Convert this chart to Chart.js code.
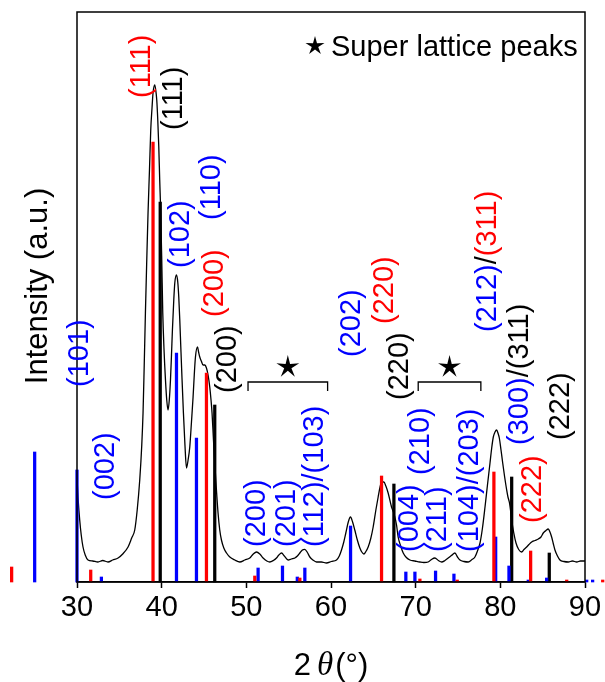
<!DOCTYPE html>
<html>
<head>
<meta charset="utf-8">
<script src="https://cdn.jsdelivr.net/npm/chart.js@4.4.1/dist/chart.umd.min.js"></script>
<style>
  html, body { margin: 0; padding: 0; background: #ffffff; }
  #wrap { width: 605px; height: 682px; position: relative; }
</style>
</head>
<body>
<div id="wrap"><canvas id="xrd" width="605" height="682"></canvas></div>
<script>
// ---- measured XRD pattern (2θ in degrees, intensity in arbitrary units) ----
const twoTheta = [
  30.0, 30.14, 30.32, 30.5, 30.71, 30.97, 31.3, 31.86, 32.48, 33.04, 33.66, 34.22, 34.85, 35.4, 36.03,
  36.46, 36.82, 37.11, 37.41, 37.65, 37.8, 37.94, 38.08, 38.24, 38.39, 38.56, 38.71, 38.86, 38.98, 39.18,
  39.3, 39.42, 39.54, 39.66, 39.77, 39.89, 40.01, 40.13, 40.28, 40.45, 40.6, 40.75, 40.9, 41.04, 41.16,
  41.27, 41.43, 41.55, 41.75, 41.9, 42.02, 42.14, 42.26, 42.41, 42.57, 42.75, 42.93, 43.12, 43.32, 43.52,
  43.71, 43.85, 43.99, 44.23, 44.36, 44.5, 44.68, 44.89, 45.09, 45.29, 45.5, 45.68, 45.83, 45.95, 46.1,
  46.27, 46.47, 46.66, 46.86, 47.06, 47.34, 47.66, 48.05, 48.64, 49.23, 49.82, 50.41, 50.82, 51.2, 51.59,
  51.98, 52.42, 52.77, 53.19, 53.56, 53.84, 54.16, 54.49, 54.94, 55.32, 55.73, 56.03, 56.32, 56.62, 56.91,
  57.21, 57.5, 57.86, 58.29, 58.86, 59.47, 60.04, 60.65, 60.98, 61.24, 61.51, 61.75, 62.04, 62.3, 62.55,
  62.81, 63.11, 63.41, 63.64, 63.88, 64.12, 64.39, 64.71, 64.98, 65.3, 65.57, 65.77, 65.97, 66.24, 66.48,
  66.75, 67.15, 67.37, 67.54, 67.74, 67.93, 68.23, 68.53, 68.9, 69.32, 69.91, 70.5, 70.97, 71.48, 71.86,
  72.27, 72.69, 73.07, 73.46, 73.85, 74.23, 74.64, 74.94, 75.23, 75.71, 76.21, 76.65, 77.0, 77.3, 77.6,
  77.89, 78.19, 78.48, 78.78, 78.98, 79.17, 79.37, 79.57, 79.72, 79.88, 80.08, 80.28, 80.51, 80.75, 80.9,
  81.06, 81.2, 81.34, 81.59, 81.85, 82.17, 82.52, 82.79, 83.11, 83.38, 83.7, 84.09, 84.48, 84.8, 85.07,
  85.39, 85.66, 85.86, 86.06, 86.25, 86.45, 86.75, 87.04, 87.52, 88.02, 88.52, 89.02, 89.47, 90.0
];
const intensity = [
  104, 82, 62, 47, 35, 27, 22, 21, 20, 21.5, 20, 22, 24, 28, 35,
  44, 52, 72, 102, 137, 169, 217, 269, 322, 369, 412, 452, 474, 489, 497,
  492, 482, 462, 435, 402, 369, 322, 269, 232, 202, 182, 172, 182, 202, 227,
  252, 282, 299, 307, 300, 285, 262, 235, 202, 169, 137, 114, 122, 135, 160,
  185, 207, 225, 235, 230, 225, 221, 217, 217, 214, 206, 195, 182, 169, 145,
  119, 92, 69, 52, 42, 34, 29, 25, 22, 20, 22, 24, 28, 30, 28,
  24, 21, 20, 21.5, 24, 27, 29, 26, 22, 23, 24, 26, 29, 32, 32.7,
  29.5, 25, 22, 20, 20, 19, 20.5, 22, 26, 32, 40, 49, 60, 65, 60,
  52, 42, 34, 30, 28, 30.5, 35, 44, 55, 72, 85, 94, 100, 100, 96,
  89, 75, 70, 65, 57, 45, 36, 29, 24.5, 22, 21, 20, 19.5, 20, 22.5,
  24, 21.5, 20, 21.5, 24, 26.5, 29, 25, 22, 20.5, 20, 22.5, 25, 31, 39,
  54, 75, 97, 119, 134, 145, 150, 152, 149, 144, 132, 119, 105, 92, 85,
  80, 72, 62, 49, 39, 32.5, 30, 32.5, 35, 37.5, 40, 41.5, 43, 45, 49,
  51.5, 53, 50, 45, 38.5, 32, 26, 22, 20.5, 20, 21, 20, 21, 21
];

// ---- reference stick patterns ----
const redPos = [22.28, 31.62, 38.98, 45.29, 51.0, 56.32, 65.97, 70.5, 74.91, 79.24, 83.58, 87.84, 92.09];
const redInt = [15, 12, 440, 209, 6, 4, 106, 3, 2, 110, 31, 2, 2];

const bluePos = [25.0, 30.0, 32.88, 41.75, 44.11, 51.39, 54.27, 56.02, 56.91, 62.31, 68.84, 69.91,
                 72.35, 74.52, 79.45, 81.02, 83.3, 85.47, 90.2, 90.9];
const blueInt = [130, 112, 5, 229, 144, 14, 16, 5, 14, 56, 10, 10, 11, 8, 45, 16, 2, 4, 2, 2];

const blackPos = [39.83, 46.27, 67.43, 81.34, 85.78];
const blackInt = [380, 177, 98, 105, 29];

const xTicks = [30, 40, 50, 60, 70, 80, 90];

// ---- annotation texts ----
const BLUE = '#0000ff', RED = '#ff0000', BLACK = '#000000';
const hklLabels = [
  { at: [30.32, 195], parts: [['(101)', BLUE]] },
  { at: [33.39, 82],  parts: [['(002)', BLUE]] },
  { at: [37.65, 484], parts: [['(111)', RED]] },
  { at: [41.43, 452], parts: [['(111)', BLACK]] },
  { at: [42.27, 314], parts: [['(102)', BLUE]] },
  { at: [45.92, 362], parts: [['(110)', BLUE]] },
  { at: [46.27, 265], parts: [['(200)', RED]] },
  { at: [47.8, 189],  parts: [['(200)', BLACK]] },
  { at: [51.23, 35],  parts: [['(200)', BLUE]] },
  { at: [54.78, 35],  parts: [['(201)', BLUE]] },
  { at: [58.08, 35],  parts: [['(112)/(103)', BLUE]] },
  { at: [62.46, 225], parts: [['(202)', BLUE]] },
  { at: [66.36, 258], parts: [['(220)', RED]] },
  { at: [68.14, 182], parts: [['(220)', BLACK]] },
  { at: [69.3, 30],   parts: [['(004)', BLUE]] },
  { at: [70.6, 107],  parts: [['(210)', BLUE]] },
  { at: [72.62, 30],  parts: [['(211)', BLUE]] },
  { at: [76.4, 30],   parts: [['(104)/(203)', BLUE]] },
  { at: [78.54, 250], parts: [['(212)', BLUE], ['/', BLACK], ['(311)', RED]] },
  { at: [82.32, 137], parts: [['(300)', BLUE], ['/(311)', BLACK]] },
  { at: [83.86, 59],  parts: [['(222)', RED]] },
  { at: [87.17, 142], parts: [['(222)', BLACK]] }
];
// super-lattice brackets: [from 2θ, to 2θ, level]
const superLattice = [[50.2, 59.6, 200], [70.3, 77.7, 200]];

const FONT = '"Liberation Sans", Arial, sans-serif';
const FS = 29;

function sticks(pos, val) {
  return pos.map((p, i) => ({ x: p, y: val[i] }));
}

function starPath(ctx, cx, cy, ro, ri) {
  ctx.beginPath();
  for (let k = 0; k < 10; k++) {
    const r = k % 2 === 0 ? ro : ri;
    const a = -Math.PI / 2 + k * Math.PI / 5;
    const px = cx + r * Math.cos(a), py = cy + r * Math.sin(a);
    if (k === 0) ctx.moveTo(px, py); else ctx.lineTo(px, py);
  }
  ctx.closePath();
  ctx.fill();
}

const decorations = {
  id: 'decorations',
  afterDatasetsDraw(chart) {
    const { ctx, chartArea: ca, scales } = chart;
    const xs = scales.x, ys = scales.y;
    ctx.save();

    // frame
    ctx.strokeStyle = '#000';
    ctx.lineWidth = 1.5;
    ctx.strokeRect(ca.left, ca.top, ca.right - ca.left, ca.bottom - ca.top);

    // Miller-index labels, rotated to read upward
    ctx.font = FS + 'px ' + FONT;
    ctx.textAlign = 'left';
    ctx.textBaseline = 'middle';
    hklLabels.forEach(l => {
      const px = xs.getPixelForValue(l.at[0]);
      const py = ys.getPixelForValue(l.at[1]);
      ctx.save();
      ctx.translate(px, py);
      ctx.rotate(-Math.PI / 2);
      let off = 0;
      l.parts.forEach(([t, c]) => {
        ctx.fillStyle = c;
        ctx.fillText(t, off, 0);
        off += ctx.measureText(t).width;
      });
      ctx.restore();
    });

    // super-lattice brackets with star marks
    ctx.strokeStyle = '#000';
    ctx.fillStyle = '#000';
    ctx.lineWidth = 1.3;
    superLattice.forEach(([a, b, lvl]) => {
      const x1 = xs.getPixelForValue(a), x2 = xs.getPixelForValue(b);
      const yy = ys.getPixelForValue(lvl);
      const leg = 9;
      ctx.beginPath();
      ctx.moveTo(x1, yy + leg); ctx.lineTo(x1, yy); ctx.lineTo(x2, yy); ctx.lineTo(x2, yy + leg);
      ctx.stroke();
      starPath(ctx, (x1 + x2) / 2, yy - 15, 12, 3.8);
    });

    // legend note
    starPath(ctx, 315, 46, 10, 3.4);
    ctx.font = '29px ' + FONT;
    ctx.textAlign = 'left';
    ctx.textBaseline = 'alphabetic';
    ctx.fillText('Super lattice peaks', 331, 56);

    // y-axis title
    ctx.save();
    ctx.translate(47, 286);
    ctx.rotate(-Math.PI / 2);
    ctx.font = '31px ' + FONT;
    ctx.textAlign = 'center';
    ctx.textBaseline = 'alphabetic';
    ctx.fillText('Intensity (a.u.)', 0, 0);
    ctx.restore();

    // x-axis title: 2θ(°) with italic theta
    const partsX = [
      ['2', '31px ' + FONT, 6],
      ['\u03B8', 'italic 33px "Liberation Serif", serif', 2],
      ['(\u00B0)', '31px ' + FONT, 0]
    ];
    let total = 0;
    partsX.forEach(([t, f, g]) => { ctx.font = f; total += ctx.measureText(t).width + g; });
    let cx = (ca.left + ca.right) / 2 - total / 2;
    ctx.textBaseline = 'alphabetic';
    partsX.forEach(([t, f, g]) => {
      ctx.font = f;
      ctx.fillText(t, cx, 675);
      cx += ctx.measureText(t).width + g;
    });

    ctx.restore();
  }
};

const stickStyle = (color) => ({
  type: 'bar',
  backgroundColor: color,
  borderWidth: 0,
  barThickness: 2.6,
  grouped: false,
  clip: false,
  order: 1
});

new Chart(document.getElementById('xrd'), {
  type: 'scatter',
  data: {
    datasets: [
      Object.assign({ data: sticks(redPos, redInt) }, stickStyle(RED)),
      Object.assign({ data: sticks(bluePos, blueInt) }, stickStyle(BLUE)),
      Object.assign({ data: sticks(blackPos, blackInt) }, stickStyle(BLACK)),
      {
        type: 'line',
        data: twoTheta.map((t, i) => ({ x: t, y: intensity[i] })),
        borderColor: '#000',
        borderWidth: 1.3,
        pointRadius: 0,
        cubicInterpolationMode: 'monotone',
        fill: false,
        order: 5
      }
    ]
  },
  options: {
    responsive: false,
    animation: false,
    devicePixelRatio: 1,
    layout: { padding: { left: 77, right: 20, top: 12, bottom: 0 } },
    plugins: { legend: { display: false }, tooltip: { enabled: false } },
    scales: {
      x: {
        type: 'linear',
        min: xTicks[0],
        max: xTicks[xTicks.length - 1],
        offset: false,
        afterFit: (s) => { s.height = 100; },
        afterBuildTicks: (s) => { s.ticks = xTicks.map(v => ({ value: v })); },
        grid: { display: true, offset: false, drawOnChartArea: false, drawTicks: true, tickLength: 6, tickWidth: 1.5, tickColor: '#000' },
        border: { display: true, color: '#000', width: 1.5 },
        ticks: { stepSize: 10, autoSkip: false, color: '#000', padding: 3, font: { family: FONT, size: FS }, maxRotation: 0 }
      },
      y: {
        display: false,
        min: 0,
        max: 570
      }
    }
  },
  plugins: [decorations]
});
</script>
</body>
</html>
